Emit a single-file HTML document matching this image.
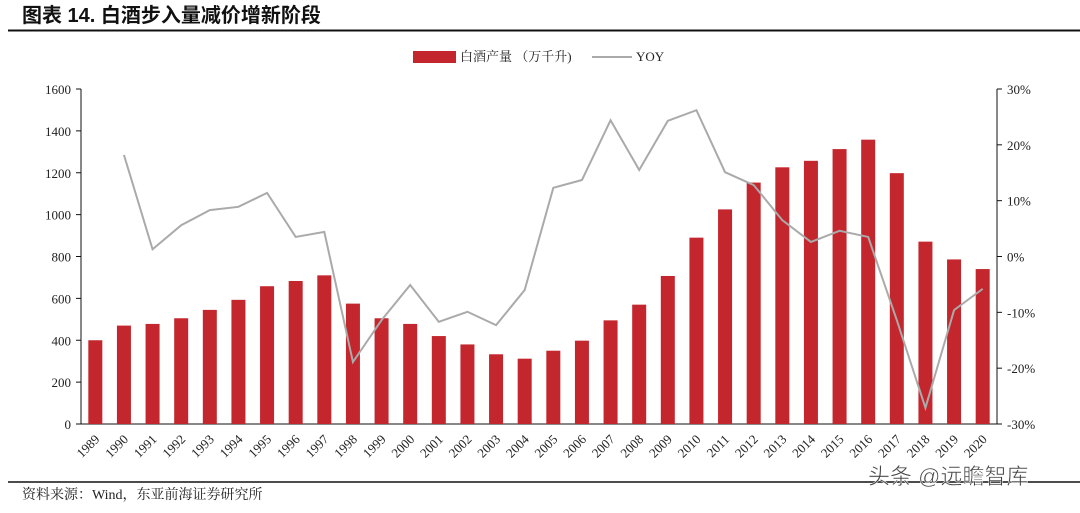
<!DOCTYPE html>
<html><head><meta charset="utf-8"><style>
body{margin:0;background:#fff;width:1080px;height:508px;overflow:hidden;font-family:"Liberation Serif","Noto Serif CJK SC",serif}
</style></head><body>
<svg width="1080" height="508" xmlns="http://www.w3.org/2000/svg">
<text x="22" y="22" font-family="'Liberation Sans','Noto Sans CJK SC',sans-serif" font-weight="bold" font-size="20" fill="#111">图表 14. 白酒步入量减价增新阶段</text>
<line x1="8" y1="30.5" x2="1080" y2="30.5" stroke="#111" stroke-width="2"/>
<g>
<rect x="413" y="51" width="43" height="12" fill="#c4262e"/>
<text x="460" y="61" font-size="13" fill="#222">白酒产量 （万千升)</text>
<line x1="592" y1="57" x2="632" y2="57" stroke="#aaa" stroke-width="2"/>
<text x="636" y="61" font-size="13" fill="#222">YOY</text>
</g>
<g id="plot"></g>
<line x1="8" y1="482" x2="1080" y2="482" stroke="#111" stroke-width="1.5"/>
<text x="22" y="499" font-size="14" fill="#222">资料来源：Wind，东亚前海证券研究所</text>
<text x="868" y="484" font-family="'Liberation Sans','Noto Sans CJK SC',sans-serif" font-size="22" fill="#444" stroke="#fff" stroke-width="0.5">头条 @远瞻智库</text>
</svg>
<script>
const years=[1989,1990,1991,1992,1993,1994,1995,1996,1997,1998,1999,2000,2001,2002,2003,2004,2005,2006,2007,2008,2009,2010,2011,2012,2013,2014,2015,2016,2017,2018,2019,2020];
const production=[400,470,478,505,545,593,658,683,710,575,505,478,420,380,333,312,350,398,495,570,707,890,1025,1153,1226,1257,1313,1358,1198,871,786,740];
const yoy=[null,18.2,1.3,5.6,8.3,8.9,11.4,3.5,4.4,-18.9,-11.4,-5.1,-11.7,-9.9,-12.3,-6.0,12.3,13.7,24.4,15.5,24.3,26.2,15.1,12.8,6.5,2.6,4.6,3.5,-11.4,-27.1,-9.6,-5.8];
const leftTicks=[0,200,400,600,800,1000,1200,1400,1600];
const rightTicks=[-30,-20,-10,0,10,20,30];
const NS="http://www.w3.org/2000/svg";
const g=document.getElementById('plot');
const X0=81,X1=997,Y0=424,Y1=89;
const step=(X1-X0)/years.length;
const xc=i=>X0+step*(i+0.5);
const yL=v=>Y0-(v/1600)*(Y0-Y1);
const yR=v=>Y0-((v+30)/60)*(Y0-Y1);
function mk(t,a){const e=document.createElementNS(NS,t);for(const k in a)e.setAttribute(k,a[k]);g.appendChild(e);return e;}
let e;
e=mk('line',{x1:X0,y1:Y1,x2:X0,y2:Y0,stroke:'#111'});


e=mk('line',{x1:X0,y1:Y0,x2:X1,y2:Y0,stroke:'#111'});


e=mk('line',{x1:X1,y1:Y1,x2:X1,y2:Y0,stroke:'#111'});


leftTicks.forEach(v=>{
 mk('line',{x1:X0-5,y1:yL(v),x2:X0,y2:yL(v),stroke:'#111'});
 e=mk('text',{x:X0-10,y:yL(v)+5,'text-anchor':'end','font-size':13,fill:'#222'});e.textContent=v;
 
 
});
rightTicks.forEach(v=>{
 mk('line',{x1:X1,y1:yR(v),x2:X1+5,y2:yR(v),stroke:'#111'});
 e=mk('text',{x:X1+10,y:yR(v)+5,'font-size':13,fill:'#222'});e.textContent=v+'%';
 
 
});
years.forEach((yr,i)=>{
 e=mk('rect',{x:xc(i)-7,y:yL(production[i]),width:14,height:Y0-yL(production[i]),fill:'#c4262e'});
 
 
 const tx=xc(i)+5,ty=Y0+16;
 e=mk('text',{x:tx,y:ty,'text-anchor':'end','font-size':13,fill:'#222',transform:`rotate(-45 ${tx} ${ty})`});e.textContent=yr;
 
 
});
let pts=[];yoy.forEach((v,i)=>{if(v!==null)pts.push(xc(i)+','+yR(v));});
e=mk('polyline',{points:pts.join(' '),fill:'none',stroke:'#aaa','stroke-width':2});


</script>
</body></html>
